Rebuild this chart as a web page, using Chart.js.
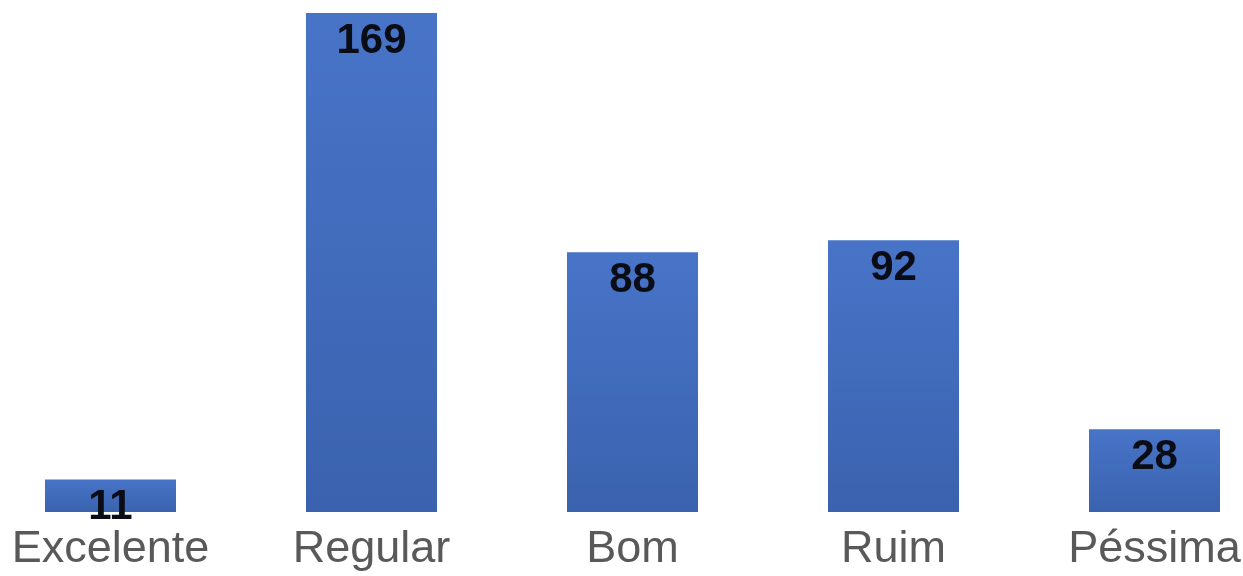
<!DOCTYPE html>
<html>
<head>
<meta charset="utf-8">
<script src="https://cdn.jsdelivr.net/npm/chart.js@4/dist/chart.umd.min.js"></script>
<style>
html,body{margin:0;padding:0;background:#fff;overflow:hidden;width:1243px;height:576px;}
#wrap{position:absolute;left:-20px;top:0;width:1305px;height:576px;}
</style>
</head>
<body>
<div id="wrap"><canvas id="c"></canvas></div>
<script>
const categories = ["Excelente", "Regular", "Bom", "Ruim", "Péssima"];
const values = [11, 169, 88, 92, 28];

function barGradient(ctx) {
  const chart = ctx.chart;
  const ys = chart.scales && chart.scales.y;
  if (!ys || ctx.parsed === undefined || ctx.parsed === null) return '#4472C4';
  const top = ys.getPixelForValue(ctx.parsed.y);
  const base = ys.getPixelForValue(0);
  if (!isFinite(top) || !isFinite(base) || top === base) return '#4472C4';
  const g = chart.ctx.createLinearGradient(0, top, 0, base);
  g.addColorStop(0, '#4874C8');
  g.addColorStop(1, '#3A62AE');
  return g;
}

const valueLabels = {
  id: 'valueLabels',
  afterDatasetsDraw(chart) {
    const c = chart.ctx;
    const meta = chart.getDatasetMeta(0);
    c.save();
    c.font = 'bold 42px "Liberation Sans", Arial, sans-serif';
    c.fillStyle = '#0b0d16';
    c.textAlign = 'center';
    c.textBaseline = 'middle';
    meta.data.forEach((el, i) => {
      c.fillText(String(chart.data.datasets[0].data[i]), el.x, el.y + 28);
    });
    c.restore();
  }
};

new Chart(document.getElementById('c'), {
  type: 'bar',
  data: {
    labels: categories,
    datasets: [{
      data: values,
      backgroundColor: barGradient,
      borderWidth: 0,
      barPercentage: 0.502,
      categoryPercentage: 1.0
    }]
  },
  options: {
    responsive: true,
    maintainAspectRatio: false,
    animation: false,
    layout: { padding: { top: 13, left: 0, right: 0, bottom: 0 } },
    plugins: { legend: { display: false }, tooltip: { enabled: false } },
    scales: {
      x: {
        grid: { display: false, drawTicks: false },
        border: { display: false },
        ticks: {
          color: '#595959',
          font: { family: '"Liberation Sans", Arial, sans-serif', size: 45 },
          padding: 11,
          maxRotation: 0,
          autoSkip: false
        },
        afterFit(scale) { scale.height = 64; }
      },
      y: {
        display: false,
        min: 0,
        max: 169
      }
    }
  },
  plugins: [valueLabels]
});
</script>
</body>
</html>
